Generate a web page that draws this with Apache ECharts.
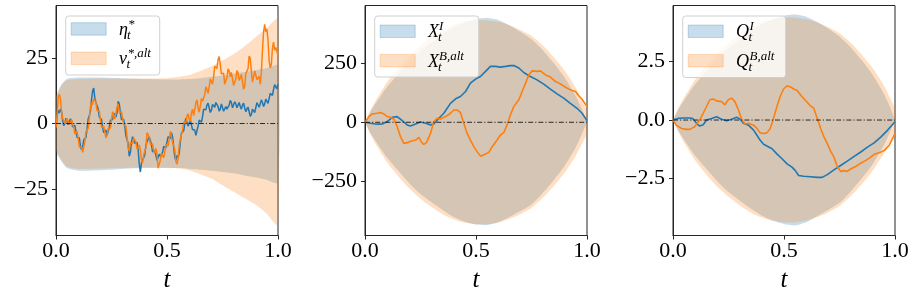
<!DOCTYPE html>
<html>
<head>
<meta charset="utf-8">
<script src="https://cdn.jsdelivr.net/npm/echarts@6/dist/echarts.min.js"></script>
<style>
html,body{margin:0;padding:0;background:#fff;}
#c{width:917px;height:301px;}
</style>
</head>
<body>
<div id="c"></div>
<script>
// ---------- Panel 1: eta*_t and nu*_t^{alt} ----------
const T1 = [
0,0.005,0.01,0.015,0.02,0.025,0.03,0.035,0.04,0.045,0.05,0.055,0.06,0.065,0.07,0.075,0.08,0.085,0.09,0.095,
0.1,0.105,0.11,0.115,0.12,0.125,0.13,0.135,0.14,0.145,0.15,0.155,0.16,0.165,0.17,0.175,0.18,0.185,0.19,0.195,
0.2,0.205,0.21,0.215,0.22,0.225,0.23,0.235,0.24,0.245,0.25,0.255,0.26,0.265,0.27,0.275,0.28,0.285,0.29,0.295,
0.3,0.305,0.31,0.315,0.32,0.325,0.33,0.335,0.34,0.345,0.35,0.355,0.36,0.365,0.37,0.375,0.38,0.385,0.39,0.395,
0.4,0.405,0.41,0.415,0.42,0.425,0.43,0.435,0.44,0.445,0.45,0.455,0.46,0.465,0.47,0.475,0.48,0.485,0.49,0.495,
0.5,0.505,0.51,0.515,0.52,0.525,0.53,0.535,0.54,0.545,0.55,0.555,0.56,0.565,0.57,0.575,0.58,0.585,0.59,0.595,
0.6,0.605,0.61,0.615,0.62,0.625,0.63,0.635,0.64,0.645,0.65,0.655,0.66,0.665,0.67,0.675,0.68,0.685,0.69,0.695,
0.7,0.705,0.71,0.715,0.72,0.725,0.73,0.735,0.74,0.745,0.75,0.755,0.76,0.765,0.77,0.775,0.78,0.785,0.79,0.795,
0.8,0.805,0.81,0.815,0.82,0.825,0.83,0.835,0.84,0.845,0.85,0.855,0.86,0.865,0.87,0.875,0.88,0.885,0.89,0.895,
0.9,0.905,0.91,0.915,0.92,0.925,0.93,0.935,0.94,0.945,0.95,0.955,0.96,0.965,0.97,0.975,0.98,0.985,0.99,0.995,
1];
const eta = [
-1.5,3.0,5,4.0,5.5,4.5,1,-0.8,0,2.0,1.5,-0.5,0,1.8,1,-1.3,-1,-0.7,-3,-5.3,
-5,-5.4,-8.5,-10,-9,-6.2,-6,-5.3,-2,1.8,3,4.7,9,12.5,13.5,9.5,8,8.0,5.5,2.5,
2,1.5,-1.5,-3.5,-3,-2.5,-4.5,-4.3,-1.5,1.3,1.5,1.5,4,4.5,2.5,4.2,8.5,7.5,4,1.5,
1.5,1.5,-1,-4.8,-6,-8.0,-12.5,-11,-7,-5,-5.5,-7.5,-7,-7.2,-10,-15.5,-18.5,-15,-14,-14.3,
-12,-8.2,-7,-7.3,-5,-5.2,-8,-10.8,-11,-10.2,-12,-14,-13.5,-11.7,-12.5,-13,-11,-8.7,-9,-9.3,
-7,-5,-5.5,-5.8,-3.5,-5,-9,-12.8,-14,-12.2,-13,-11.3,-7,-3.7,-3,-2.8,0,2.0,1.5,-1.0,
-1,1.3,1,-2.3,-3,-2.5,-4.5,-4,-1,1.3,1,0.5,2.5,5.5,6,5.2,7,7.8,6,4.2,
5,7.3,7,6.2,8,8.5,6.5,4.7,5.5,7.5,7,4.7,5,6.5,5.5,5,7,8.8,8,6,
6.5,8.3,7.5,6,7,8,6.5,5.5,7,7.8,6,4.5,5.5,6.3,4.5,2.7,3.5,5.5,5,4.2,
6,8,7.5,6.2,7.5,9,8,6.5,7.5,9.3,8.5,7.7,9.5,11.5,11,10.7,13,14.8,14,13.2,
15];
const nuAlt = [
-1.5,2.8,10,11.2,9.5,4.2,2,2.5,0,-0.5,2,2.2,-0.5,-1,1.5,1.5,-1.5,-4,-3.5,-3,
-5.5,-9,-9.5,-8.8,-11,-10.5,-7,-3.2,-2.5,-1.8,2,6.5,8,7.2,9.5,10.2,8,5,5,4.8,
1.5,-1.5,-1.5,-1,-3.5,-5.5,-4.5,-1.8,-2,-1.8,1.5,4.5,4.5,1.8,2,6.2,7.5,4.2,4,4.5,
2,-0.5,0,-1,-5,-9.2,-10.5,-7.2,-7,-7.8,-5.5,-4.8,-7,-9.8,-9.5,-8.2,-10,-14,-15,-12,
-12,-9.2,-3.5,-2.8,-5,-8,-8,-7.8,-10.5,-11.5,-9.5,-11.8,-17,-17,-14,-11.5,-12,-13,-11,-8,
-8,-8.5,-6,-3,-3,-7.2,-8.5,-10,-14.5,-15.5,-13.5,-8.2,-6,-5.8,-2.5,0.5,0.5,0.2,2.8,3.7,
1.6,0.8,4,5.5,3,3.5,7.9,9,6,4.3,6.6,9.5,8.5,7.8,11,14,13,11.5,14,17,
16,15,18,21.8,21.5,21,24.4,25.5,22.5,18.9,19.3,19.2,15,14.3,17.5,20.8,20,17.8,19.5,19,
14.5,13.8,17,20.2,19.3,16.4,17.4,18.7,16,13.1,14.2,19.1,20,20.9,25.7,24.9,20,15.8,15.5,20,
20.6,16.8,17,18,15,19.5,28,34.9,37.8,34.9,36,32,24,21.2,22.5,28.8,31,28,29,29.5,
26];
const band1T = [0,0.025,0.05,0.1,0.2,0.3,0.4,0.5,0.55,0.6,0.65,0.7,0.75,0.8,0.85,0.9,0.95,1.0];
const band1BlueUp = [10,15,17,17.5,17.5,17.2,17,16.8,16.8,17,17.3,17.8,18.3,19,19.6,20.4,21.2,22.2];
const band1BlueLo = [-10.4,-14.5,-17,-18,-17.8,-17.3,-17,-17,-17,-17.3,-17.6,-18,-18.5,-19,-19.8,-20.5,-21.5,-22.6];
const band1OrUp = [10,14.5,16.5,17,17.2,17.2,17.2,17.3,17.8,18.5,20,21.8,24,26.5,29.5,33,36.5,40];
const band1OrLo = [-10,-14,-16.5,-17.3,-17.2,-17,-16.8,-16.9,-17.2,-17.9,-19.3,-21,-23.5,-26,-28.5,-31,-34.5,-38.9];

// ---------- Panel 2: X^I_t and X^{B,alt}_t ----------
const tXI = [0,0.025,0.055,0.078,0.10,0.123,0.145,0.168,0.19,0.205,0.228,0.25,0.273,0.295,0.31,0.333,0.355,0.385,0.408,0.43,0.453,0.475,0.498,0.52,0.543,0.565,0.588,0.61,0.633,0.655,0.67,0.693,0.715,0.745,0.775,0.805,0.835,0.865,0.895,0.925,0.955,0.978,1.0];
const XI = [0,-4,-8,-7,3,21,24,7,-11,-16,-7,1,-4,-11,-7,17,38,80,99,109,130,165,182,193,215,236,236,233,236,239,240,229,210,193,179,161,140,120,102,80,59,38,7];
const tXB = [0,0.018,0.033,0.055,0.07,0.085,0.10,0.115,0.13,0.145,0.16,0.175,0.19,0.213,0.228,0.243,0.253,0.265,0.277,0.295,0.31,0.325,0.34,0.363,0.385,0.40,0.415,0.43,0.445,0.46,0.475,0.49,0.505,0.52,0.528,0.543,0.558,0.573,0.595,0.61,0.625,0.64,0.655,0.67,0.693,0.708,0.723,0.738,0.753,0.775,0.79,0.813,0.835,0.858,0.88,0.903,0.918,0.933,0.948,0.963,0.978,1.0];
const XB = [0,24,35,38,41,35,24,21,13,-18,-61,-89,-86,-78,-75,-64,-82,-93,-86,-47,3,17,14,24,38,52,52,41,-4,-47,-75,-103,-124,-143,-145,-134,-127,-103,-75,-54,-44,-11,31,66,95,130,165,200,217,215,217,200,191,172,162,148,140,134,130,112,97,66];
const band2T = [0,0.025,0.05,0.1,0.15,0.2,0.25,0.3,0.35,0.4,0.45,0.5,0.55,0.6,0.65,0.7,0.75,0.8,0.85,0.9,0.95,0.975,1];
const band2BlueUp = [0,46,82,150,205,258,303,338,372,402,422,436,440,432,410,382,350,305,250,188,110,60,0];
const band2BlueLo = [0,-46,-82,-150,-205,-258,-303,-338,-370,-400,-420,-432,-434,-422,-400,-375,-347,-300,-245,-183,-105,-55,0];
const band2OrUp = [0,52,95,170,228,280,323,358,390,412,425,430,430,424,410,390,365,325,275,218,145,98,46];
const band2OrLo = [0,-52,-95,-170,-228,-280,-323,-358,-388,-410,-424,-430,-430,-423,-408,-388,-362,-320,-270,-212,-140,-95,-46];

// ---------- Panel 3: Q^I_t and Q^{B,alt}_t ----------
const tQI = [0,0.023,0.045,0.075,0.09,0.106,0.12,0.136,0.151,0.174,0.196,0.219,0.242,0.264,0.287,0.302,0.317,0.34,0.363,0.378,0.393,0.408,0.423,0.446,0.468,0.491,0.514,0.536,0.551,0.566,0.589,0.619,0.65,0.672,0.695,0.725,0.755,0.785,0.816,0.846,0.876,0.906,0.937,0.967,1.0];
const QI = [0,0.07,0.09,0.09,0.06,-0.14,-0.26,-0.2,0,0.07,0.14,0.03,-0.03,0.03,0.12,0.04,-0.14,-0.22,-0.43,-0.65,-0.87,-1.04,-1.11,-1.23,-1.45,-1.66,-1.88,-2.02,-2.17,-2.38,-2.41,-2.43,-2.46,-2.46,-2.34,-2.14,-1.95,-1.76,-1.56,-1.37,-1.16,-0.98,-0.72,-0.43,-0.07];
const tQB = [0,0.015,0.038,0.06,0.075,0.098,0.12,0.136,0.151,0.166,0.181,0.196,0.219,0.234,0.249,0.264,0.279,0.295,0.31,0.325,0.34,0.363,0.378,0.393,0.408,0.423,0.438,0.453,0.468,0.483,0.498,0.514,0.529,0.544,0.559,0.574,0.597,0.619,0.634,0.65,0.665,0.68,0.695,0.71,0.725,0.74,0.755,0.77,0.785,0.8,0.823,0.846,0.869,0.891,0.906,0.921,0.937,0.952,0.974,1.0];
const QB = [0,-0.22,-0.36,-0.4,-0.4,-0.29,0,0.29,0.58,0.87,0.9,0.82,0.79,0.65,0.87,0.94,0.79,0.43,0,-0.17,-0.14,-0.22,-0.36,-0.55,-0.58,-0.55,-0.36,0.07,0.58,1.01,1.33,1.47,1.42,1.33,1.27,1.08,0.84,0.61,0.51,0.07,-0.36,-0.72,-1.01,-1.33,-1.59,-1.99,-2.2,-2.17,-2.2,-2.1,-1.99,-1.85,-1.73,-1.59,-1.47,-1.42,-1.37,-1.3,-1.08,-0.58];
const band3T = [0,0.025,0.05,0.1,0.15,0.2,0.25,0.3,0.35,0.4,0.45,0.5,0.55,0.6,0.65,0.7,0.75,0.8,0.85,0.9,0.95,0.975,1];
const band3BlueUp = [0,0.47,0.84,1.53,2.09,2.63,3.09,3.45,3.8,4.11,4.32,4.47,4.52,4.43,4.2,3.91,3.58,3.12,2.56,1.93,1.13,0.62,0];
const band3BlueLo = [0,-0.47,-0.84,-1.53,-2.09,-2.63,-3.09,-3.45,-3.79,-4.09,-4.31,-4.46,-4.52,-4.38,-4.12,-3.85,-3.55,-3.07,-2.51,-1.88,-1.08,-0.57,0];
const band3OrUp = [0,0.53,0.97,1.73,2.33,2.86,3.29,3.65,3.98,4.2,4.33,4.39,4.39,4.32,4.18,3.98,3.72,3.32,2.8,2.22,1.48,1.0,0.47];
const band3OrLo = [0,-0.53,-0.97,-1.73,-2.33,-2.86,-3.29,-3.65,-3.96,-4.18,-4.32,-4.39,-4.39,-4.31,-4.16,-3.96,-3.69,-3.27,-2.75,-2.16,-1.43,-0.97,-0.47];

// tick labels
const xTicks = [0, 0.5, 1];
const yTicks1 = [-25, 0, 25];
const yTicks2 = [-250, 0, 250];
const yTicks3 = [-2.5, 0, 2.5];

const BLUE = '#1f77b4', ORANGE = '#ff7f0e';
const BLUE_A = 'rgba(31,119,180,0.25)', ORANGE_A = 'rgba(255,127,14,0.25)';
const FONT = '"Liberation Serif","DejaVu Serif",serif';
const AX = '#262626';

const gridLefts = [56, 365, 673];
const GW = 222, GT = 5.5, GH = 230;

function zip(a, b) { const n = Math.min(a.length, b.length); const r = []; for (let i = 0; i < n; i++) r.push([a[i], b[i]]); return r; }

function band(gi, tArr, up, lo, color) {
  return {
    type: 'custom', xAxisIndex: gi, yAxisIndex: gi, data: [[0, 0]], silent: true, z: 1,
    renderItem: function (params, api) {
      const pts = [];
      for (let i = 0; i < tArr.length; i++) pts.push(api.coord([tArr[i], up[i]]));
      for (let i = tArr.length - 1; i >= 0; i--) pts.push(api.coord([tArr[i], lo[i]]));
      return { type: 'polygon', shape: { points: pts, smooth: 0.2 }, style: { fill: color } };
    }
  };
}
function line(gi, tArr, vals, color, w) {
  return {
    type: 'line', xAxisIndex: gi, yAxisIndex: gi, data: zip(tArr, vals), symbol: 'none',
    showSymbol: false, lineStyle: { color: color, width: w }, z: 3, silent: true
  };
}
function zero(gi) {
  return {
    type: 'line', xAxisIndex: gi, yAxisIndex: gi, data: [[0, 0], [1, 0]], symbol: 'none', z: 5, silent: true,
    lineStyle: { color: '#000', width: 0.8, type: [5, 2, 1.2, 2] }
  };
}
function fmtNum(v, dec) {
  const s = Math.abs(v).toFixed(dec);
  return (v < 0 ? '\u2212' : '') + s;
}

const yRanges = [[-42.7, 45], [-478, 493], [-4.95, 4.91]];
const yTickSets = [yTicks1, yTicks2, yTicks3];
const yDec = [0, 0, 1];

const grids = [], xAxes = [], yAxes = [];
for (let i = 0; i < 3; i++) {
  grids.push({ left: gridLefts[i], top: GT, width: GW, height: GH, show: true, borderColor: AX, borderWidth: 1, backgroundColor: 'transparent', containLabel: false, outerBoundsMode: 'none' });
  xAxes.push({
    gridIndex: i, type: 'value', min: 0, max: 1,
    name: 't', nameLocation: 'middle', nameGap: 32,
    nameTextStyle: { fontFamily: FONT, fontStyle: 'italic', fontSize: 25, color: '#000' },
    axisLine: { show: true, onZero: false, lineStyle: { color: AX, width: 1 } },
    axisTick: { show: true, length: 4, inside: false, customValues: xTicks, lineStyle: { color: AX, width: 1 } },
    axisLabel: { customValues: xTicks, formatter: v => fmtNum(v, 1), fontFamily: FONT, fontSize: 22, color: '#000', margin: 5 },
    splitLine: { show: false }
  });
  yAxes.push({
    gridIndex: i, type: 'value', min: yRanges[i][0], max: yRanges[i][1],
    axisLine: { show: true, onZero: false, lineStyle: { color: AX, width: 1 } },
    axisTick: { show: true, length: 4, inside: false, customValues: yTickSets[i], lineStyle: { color: AX, width: 1 } },
    axisLabel: { customValues: yTickSets[i], formatter: v => fmtNum(v, yDec[i]), fontFamily: FONT, fontSize: 22, color: '#000', margin: 8 },
    splitLine: { show: false }
  });
}

const series = [
  band(0, band1T, band1BlueUp, band1BlueLo, BLUE_A),
  band(0, band1T, band1OrUp, band1OrLo, ORANGE_A),
  line(0, T1, eta, BLUE, 1.5),
  line(0, T1, nuAlt, ORANGE, 1.5),
  zero(0),
  band(1, band2T, band2BlueUp, band2BlueLo, BLUE_A),
  band(1, band2T, band2OrUp, band2OrLo, ORANGE_A),
  line(1, tXI, XI, BLUE, 1.6),
  line(1, tXB, XB, ORANGE, 1.6),
  zero(1),
  band(2, band3T, band3BlueUp, band3BlueLo, BLUE_A),
  band(2, band3T, band3OrUp, band3OrLo, ORANGE_A),
  line(2, tQI, QI, BLUE, 1.6),
  line(2, tQB, QB, ORANGE, 1.6),
  zero(2)
];

// legends (drawn as graphic elements so the math-style labels can be stacked)
const legendDefs = [
  { w: 94, h: 59, pTop: 22.7, rows: [['\u03B7', '*', 't', 9], ['\u03BD', '*,alt', 't', 8.5]] },
  { w: 104, h: 61, pTop: 25, rows: [['X', 'I', 't', 11], ['X', 'B,alt', 't', 11]] },
  { w: 103, h: 61.5, pTop: 25, rows: [['Q', 'I', 't', 13.5], ['Q', 'B,alt', 't', 13.5]] }
];
const graphics = [];
legendDefs.forEach((d, i) => {
  const gx = gridLefts[i];
  graphics.push({ type: 'rect', z: 100, shape: { x: gx + 9.7, y: 16, width: d.w, height: d.h, r: 3 },
    style: { fill: 'rgba(255,255,255,0.8)', stroke: '#d0d0d0', lineWidth: 1 } });
  d.rows.forEach((r, k) => {
    const py = d.pTop + k * 29.4;
    const cy = py + 6.2;
    graphics.push({ type: 'rect', z: 101, shape: { x: gx + 15.2, y: py, width: 35, height: 12.5 },
      style: { fill: k === 0 ? BLUE_A : ORANGE_A, stroke: k === 0 ? BLUE_A : ORANGE_A, lineWidth: 1 } });
    const mx = gx + 63;
    graphics.push({ type: 'text', z: 102, x: mx, y: cy + 1.3,
      style: { text: r[0], fontFamily: FONT, fontStyle: 'italic', fontSize: 18, fill: '#000', verticalAlign: 'middle', align: 'left' } });
    graphics.push({ type: 'text', z: 102, x: mx + r[3], y: cy - 4.5,
      style: { text: r[1], fontFamily: FONT, fontStyle: 'italic', fontSize: 13, fill: '#000', verticalAlign: 'middle', align: 'left' } });
    graphics.push({ type: 'text', z: 102, x: mx + r[3] - 1, y: cy + 6.5,
      style: { text: r[2], fontFamily: FONT, fontStyle: 'italic', fontSize: 13, fill: '#000', verticalAlign: 'middle', align: 'left' } });
  });
});

const chart = echarts.init(document.getElementById('c'), null, { renderer: 'canvas' });
chart.setOption({
  animation: false,
  backgroundColor: '#fff',
  grid: grids,
  xAxis: xAxes,
  yAxis: yAxes,
  series: series,
  graphic: graphics
});
</script>
</body>
</html>
